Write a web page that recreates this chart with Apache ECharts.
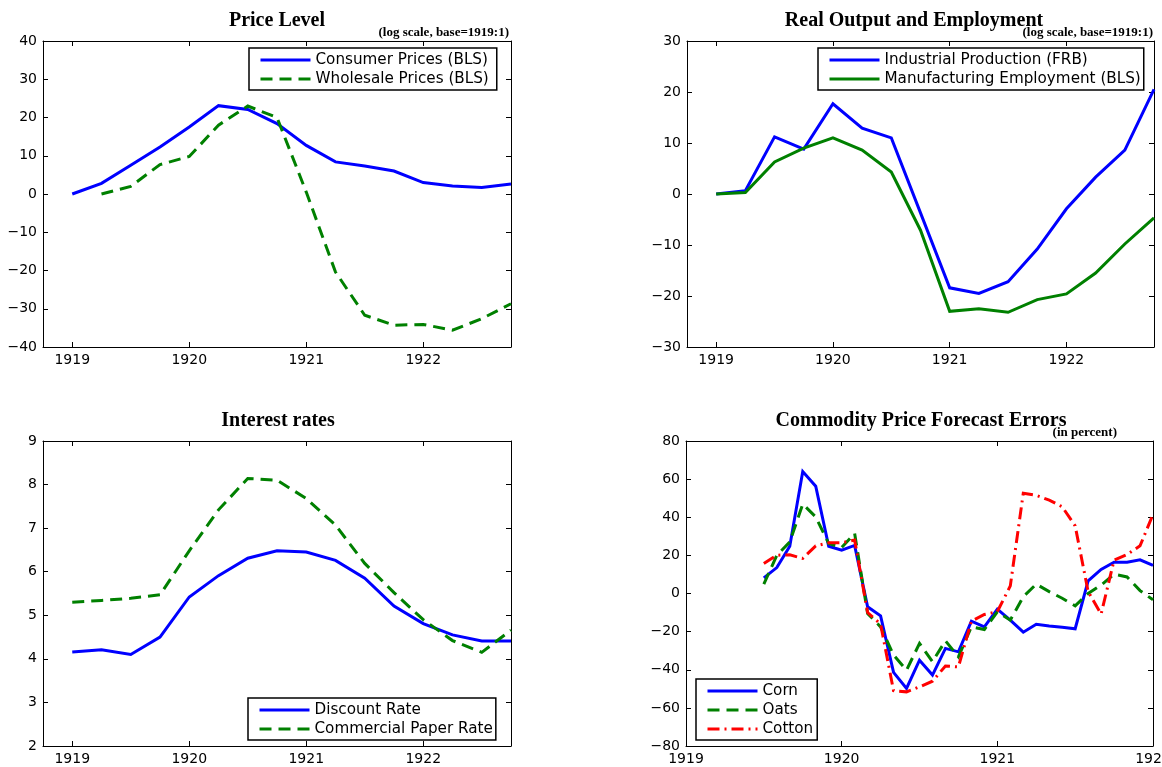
<!DOCTYPE html>
<html>
<head>
<meta charset="utf-8">
<script src="https://cdn.jsdelivr.net/npm/echarts@6/dist/echarts.min.js"></script>
<style>
html, body { margin: 0; padding: 0; background: #fff; }
#main { width: 1162px; height: 767px; }
</style>
</head>
<body>
<div id="main"></div>
<script>
// quarterly dates used by the first three panels
const quarters = [1919, 1919.25, 1919.5, 1919.75, 1920, 1920.25, 1920.5, 1920.75,
                  1921, 1921.25, 1921.5, 1921.75, 1922, 1922.25, 1922.5, 1922.75]
const yearTicks = [1919, 1920, 1921, 1922]

// Price Level (log scale, base = 1919:1)
const consumerPrices = [0, 2.8, 7.5, 12.3, 17.5, 23.1, 22.1, 18.4, 12.7, 8.4, 7.3, 6.0, 3.0, 2.1, 1.7, 2.6]
const wholesalePrices = [null, 0, 2.0, 7.7, 9.8, 18.0, 23.0, 20.0, 0.5, -20.4, -31.7, -34.3, -34.1, -35.6, -32.6, -28.7]

// Real Output and Employment
const industrialProduction = [0, 0.65, 11.2, 8.8, 17.7, 12.9, 11.0, -3.7, -18.4, -19.5, -17.2, -10.8, -2.9, 3.3, 8.6, 20.5]
const mfgEmployment = [0, 0.3, 6.3, 9.0, 11.0, 8.6, 4.3, -7.1, -23.0, -22.5, -23.2, -20.7, -19.6, -15.5, -9.8, -4.7]

// Interest rates
const discountRate = [4.16, 4.21, 4.10, 4.50, 5.42, 5.91, 6.31, 6.48, 6.45, 6.26, 5.85, 5.21, 4.81, 4.55, 4.41, 4.41]
const paperRate = [5.30, 5.34, 5.39, 5.47, 6.48, 7.42, 8.14, 8.10, 7.68, 7.07, 6.19, 5.52, 4.90, 4.42, 4.15, 4.66]

// Commodity price forecast errors, monthly from mid 1919
const firstMonth = 6
const corn = [8.2, 13.6, 24.8, 64.0, 56.3, 24.8, 22.7, 25.2, -7.0, -11.7, -41.4, -49.8, -35.0, -42.8, -28.8, -30.6,
              -14.5, -17.5, -8.2, -14.0, -20.3, -16.1, -17.0, -17.7, -18.5, 6.6, 12.6, 16.4, 16.4, 17.7, 14.7]
const oats = [4.9, 20.0, 27.0, 46.9, 40.2, 26.2, 24.1, 31.5, -10.5, -17.5, -32.3, -40.2, -26.2, -35.8, -24.8, -33.2,
              -17.5, -18.9, -9.6, -14.0, -1.7, 4.9, 1.0, -2.5, -6.5, 0, 4.4, 10.1, 8.7, 1.5, -3.3]
const cotton = [15.7, 20.1, 20.3, 18.4, 25.0, 26.6, 26.6, 28.0, -10.0, -16.0, -51.0, -51.6, -49.0, -46.0, -38.0, -38.5,
                -14.5, -11.0, -9.5, 4.0, 52.6, 51.5, 49.0, 45.5, 35.5, 1.0, -10.8, 17.5, 20.5, 25.0, 41.5]

const months = corn.map((v, i) => 1919 + (firstMonth + i) / 12)

const SANS = '"DejaVu Sans", sans-serif'
const SERIF = '"Liberation Serif", "Times New Roman", serif'
const BLUE = '#0000ff', GREEN = '#008000', RED = '#ff0000'

function pairs(xs, ys) {
    return ys.map((y, i) => [xs[i], y]).filter(p => p[1] !== null)
}
function minus(v) {
    return v < 0 ? '\u2212' + Math.abs(v) : String(v)
}

const grids = [
    { left: 43, top: 41, width: 468, height: 306 },
    { left: 687, top: 41, width: 467, height: 306 },
    { left: 43, top: 441, width: 468, height: 305 },
    { left: 686, top: 441, width: 467, height: 305 }
].map(g => Object.assign(g, { outerBoundsMode: 'none', containLabel: false }))
const xRanges = [[1918.75, 1922.75], [1918.75, 1922.75], [1918.75, 1922.75], [1919, 1922]]
const yRanges = [[-40, 40, 10], [-30, 30, 10], [2, 9, 1], [-80, 80, 20]]

let xAxes = [], yAxes = []
grids.forEach((g, i) => {
    ['bottom', 'top'].forEach(pos => {
        xAxes.push({
            type: 'value', gridIndex: i, position: pos,
            min: xRanges[i][0], max: xRanges[i][1],
            splitLine: { show: false },
            axisLine: { show: true, onZero: false, lineStyle: { color: '#000', width: 1 } },
            axisTick: { show: true, inside: true, length: 5, customValues: yearTicks, lineStyle: { color: '#000' } },
            axisLabel: {
                show: pos === 'bottom', customValues: yearTicks, margin: 6,
                showMinLabel: true, showMaxLabel: true,
                formatter: v => String(v),
                fontFamily: SANS, fontSize: 14, color: '#000'
            }
        })
    });
    ['left', 'right'].forEach(pos => {
        yAxes.push({
            type: 'value', gridIndex: i, position: pos,
            min: yRanges[i][0], max: yRanges[i][1], interval: yRanges[i][2],
            splitLine: { show: false },
            axisLine: { show: true, onZero: false, lineStyle: { color: '#000', width: 1 } },
            axisTick: { show: true, inside: true, length: 5, lineStyle: { color: '#000' } },
            axisLabel: {
                show: pos === 'left', margin: 6, formatter: minus,
                fontFamily: SANS, fontSize: 14, color: '#000'
            }
        })
    })
})

function line(name, g, xs, ys, color, type) {
    return {
        name: name, type: 'line', xAxisIndex: g * 2, yAxisIndex: g * 2,
        data: pairs(xs, ys), symbol: 'none', animation: false,
        lineStyle: { color: color, width: 3, type: type, join: 'miter' },
        itemStyle: { color: color }
    }
}

function legend(names, left, top, pad) {
    return {
        data: names, orient: 'vertical', left: left, top: top,
        itemWidth: 50, itemHeight: 14, itemGap: 3,
        padding: pad, borderColor: '#000', borderWidth: 1.5, borderRadius: 0,
        backgroundColor: '#fff', selectedMode: false,
        itemStyle: { opacity: 0 },
        lineStyle: { width: 3 },
        textStyle: { fontFamily: SANS, fontSize: 15.2, color: '#000', lineHeight: 16 }
    }
}

function label(text, x, y, size, align) {
    return {
        type: 'text', x: x, y: y, silent: true,
        style: {
            text: text, align: align, verticalAlign: 'middle',
            font: 'bold ' + size + 'px ' + SERIF, fill: '#000'
        }
    }
}

const chart = echarts.init(document.getElementById('main'))
chart.setOption({
    backgroundColor: '#fff',
    animation: false,
    grid: grids,
    xAxis: xAxes,
    yAxis: yAxes,
    legend: [
        legend(['Consumer Prices (BLS)', 'Wholesale Prices (BLS)'], 249, 48, [4, 8, 3, 10]),
        legend(['Industrial Production (FRB)', 'Manufacturing Employment (BLS)'], 818, 48, [4, 3, 3, 10]),
        legend(['Discount Rate', 'Commercial Paper Rate'], 248, 698, [4, 3, 3, 10]),
        legend(['Corn', 'Oats', 'Cotton'], 696, 679, [4, 4, 3, 10])
    ],
    graphic: [
        label('Price Level', 277, 21, 20, 'center'),
        label('(log scale, base=1919:1)', 509, 33, 13, 'right'),
        label('Real Output and Employment', 914, 21, 20, 'center'),
        label('(log scale, base=1919:1)', 1153, 33, 13, 'right'),
        label('Interest rates', 278, 421, 20, 'center'),
        label('Commodity Price Forecast Errors', 921, 421, 20, 'center'),
        label('(in percent)', 1117, 433, 13, 'right')
    ],
    series: [
        line('Consumer Prices (BLS)', 0, quarters, consumerPrices, BLUE, 'solid'),
        line('Wholesale Prices (BLS)', 0, quarters, wholesalePrices, GREEN, [12, 7]),
        line('Industrial Production (FRB)', 1, quarters, industrialProduction, BLUE, 'solid'),
        line('Manufacturing Employment (BLS)', 1, quarters, mfgEmployment, GREEN, 'solid'),
        line('Discount Rate', 2, quarters, discountRate, BLUE, 'solid'),
        line('Commercial Paper Rate', 2, quarters, paperRate, GREEN, [12, 7]),
        line('Corn', 3, months, corn, BLUE, 'solid'),
        line('Oats', 3, months, oats, GREEN, [12, 7]),
        line('Cotton', 3, months, cotton, RED, [12, 5, 2, 5])
    ]
})
</script>
</body>
</html>
